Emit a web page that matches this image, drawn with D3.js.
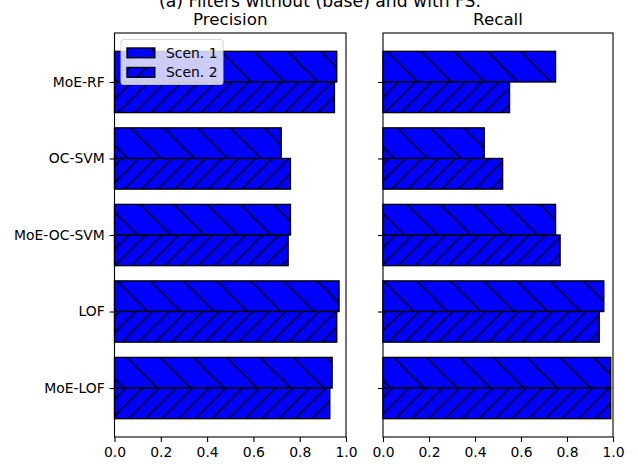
<!DOCTYPE html>
<html>
<head>
<meta charset="utf-8">
<script src="https://cdn.jsdelivr.net/npm/d3@7"></script>
<style>
  html, body { margin: 0; padding: 0; background: #fff; }
  svg { display: block; font-family: "DejaVu Sans", sans-serif; }
</style>
</head>
<body>
<div id="chart"></div>
<script>
// ---- data ----
const categories = ["MoE-RF", "OC-SVM", "MoE-OC-SVM", "LOF", "MoE-LOF"];
const seriesNames = ["Scen. 1", "Scen. 2"];
const precisionScen1 = [0.96, 0.72, 0.76, 0.97, 0.94];
const precisionScen2 = [0.95, 0.76, 0.75, 0.96, 0.93];
const recallScen1 = [0.75, 0.44, 0.75, 0.96, 0.99];
const recallScen2 = [0.55, 0.52, 0.77, 0.94, 0.99];
const xTicks = [0, 0.2, 0.4, 0.6, 0.8, 1.0];
const panelTitles = ["Precision", "Recall"];
const supTitle = "(a) Filters without (base) and with FS.";

// ---- layout ----
const W = 638, H = 464;
const plotTop = 33, plotBottom = 437;
const panels = [
  { x0: 114.5, x1: 346, title: panelTitles[0], s1: precisionScen1, s2: precisionScen2, labels: true },
  { x0: 383, x1: 613, title: panelTitles[1], s1: recallScen1, s2: recallScen2, labels: false }
];
const blue = "#0000ff";

const svg = d3.select("#chart").append("svg")
  .attr("width", W).attr("height", H);

// hatch patterns
const defs = svg.append("defs");
function hatch(id, s, back) {
  const p = defs.append("pattern")
    .attr("id", id).attr("patternUnits", "userSpaceOnUse")
    .attr("width", s).attr("height", s)
    .attr("patternTransform", `translate(0, ${H % s})`);
  p.append("rect").attr("width", s).attr("height", s).attr("fill", blue);
  const lw = 1.3;
  if (back) {
    p.append("line").attr("x1", -1).attr("y1", -1).attr("x2", s + 1).attr("y2", s + 1)
      .attr("stroke", "#000").attr("stroke-width", lw);
  } else {
    p.append("line").attr("x1", -1).attr("y1", s + 1).attr("x2", s + 1).attr("y2", -1)
      .attr("stroke", "#000").attr("stroke-width", lw);
  }
  const c = back ? [[s - 2, -2, s + 2, 2], [-2, s - 2, 2, s + 2]] : [[-2, 2, 2, -2], [s - 2, s + 2, s + 2, s - 2]];
  c.forEach(d => p.append("line").attr("x1", d[0]).attr("y1", d[1]).attr("x2", d[2]).attr("y2", d[3])
    .attr("stroke", "#000").attr("stroke-width", lw));
}
hatch("h1", 100 / 3, true);
hatch("h2", 100 / 6, false);

// y scale: index 0 at bottom (MoE-LOF), categories listed top to bottom
const n = categories.length;
const y = d3.scaleLinear().domain([-0.64, n - 1 + 0.64]).range([plotBottom, plotTop]);
const idx = i => n - 1 - i;
const barH = 0.4;

panels.forEach((pn, pi) => {
  const x = d3.scaleLinear().domain([0, 1]).range([pn.x0, pn.x1]);
  const g = svg.append("g");

  [pn.s1, pn.s2].forEach((vals, si) => {
    g.selectAll(null).data(vals).enter().append("rect")
      .attr("x", x(0))
      .attr("y", (d, i) => si === 0 ? y(idx(i) + barH) : y(idx(i)))
      .attr("width", d => x(d) - x(0))
      .attr("height", y(0) - y(barH))
      .attr("fill", si === 0 ? "url(#h1)" : "url(#h2)")
      .attr("stroke", "#000")
      .attr("stroke-width", 1.4);
  });

  g.append("rect").attr("x", pn.x0).attr("y", plotTop)
    .attr("width", pn.x1 - pn.x0).attr("height", plotBottom - plotTop)
    .attr("fill", "none").attr("stroke", "#000").attr("stroke-width", 1.1);

  const xa = g.append("g").attr("transform", `translate(0,${plotBottom})`)
    .call(d3.axisBottom(x).tickValues(xTicks).tickFormat(d3.format(".1f")).tickSize(4.9).tickPadding(4.9));
  xa.select(".domain").remove();
  xa.selectAll("line").attr("stroke", "#000").attr("stroke-width", 1.1);
  xa.selectAll("text").attr("font-size", "13.9px").attr("fill", "#000")
    .attr("font-family", "DejaVu Sans, sans-serif");

  const ya = g.append("g").attr("transform", `translate(${pn.x0},0)`)
    .call(d3.axisLeft(y).tickValues(categories.map((c, i) => idx(i)))
      .tickFormat(v => pn.labels ? categories[n - 1 - v] : "")
      .tickSize(4.9).tickPadding(4.9));
  ya.select(".domain").remove();
  ya.selectAll("line").attr("stroke", "#000").attr("stroke-width", 1.1);
  ya.selectAll("text").attr("font-size", "13.9px").attr("fill", "#000")
    .attr("font-family", "DejaVu Sans, sans-serif");

  svg.append("text").attr("x", (pn.x0 + pn.x1) / 2).attr("y", plotTop - 8.3)
    .attr("text-anchor", "middle").attr("font-size", "16.7px").attr("fill", "#000")
    .text(pn.title);
});

svg.append("text").attr("x", 320).attr("y", 7)
  .attr("text-anchor", "middle").attr("font-size", "17.2px").attr("fill", "#000")
  .text(supTitle);

const lg = svg.append("g");
lg.append("rect").attr("x", 121).attr("y", 39.5).attr("width", 102).attr("height", 45)
  .attr("rx", 2.8).attr("fill", "#fff").attr("fill-opacity", 0.8)
  .attr("stroke", "#ccc").attr("stroke-opacity", 0.8).attr("stroke-width", 1.1);
seriesNames.forEach((name, i) => {
  const yy = 48 + i * 19.5;
  lg.append("rect").attr("x", 127).attr("y", yy).attr("width", 27.8).attr("height", 9.7)
    .attr("fill", i === 0 ? "url(#h1)" : "url(#h2)").attr("stroke", "#000").attr("stroke-width", 1.4);
  lg.append("text").attr("x", 166).attr("y", yy + 9.7).attr("font-size", "13.9px").attr("fill", "#000")
    .text(name);
});
</script>
</body>
</html>
